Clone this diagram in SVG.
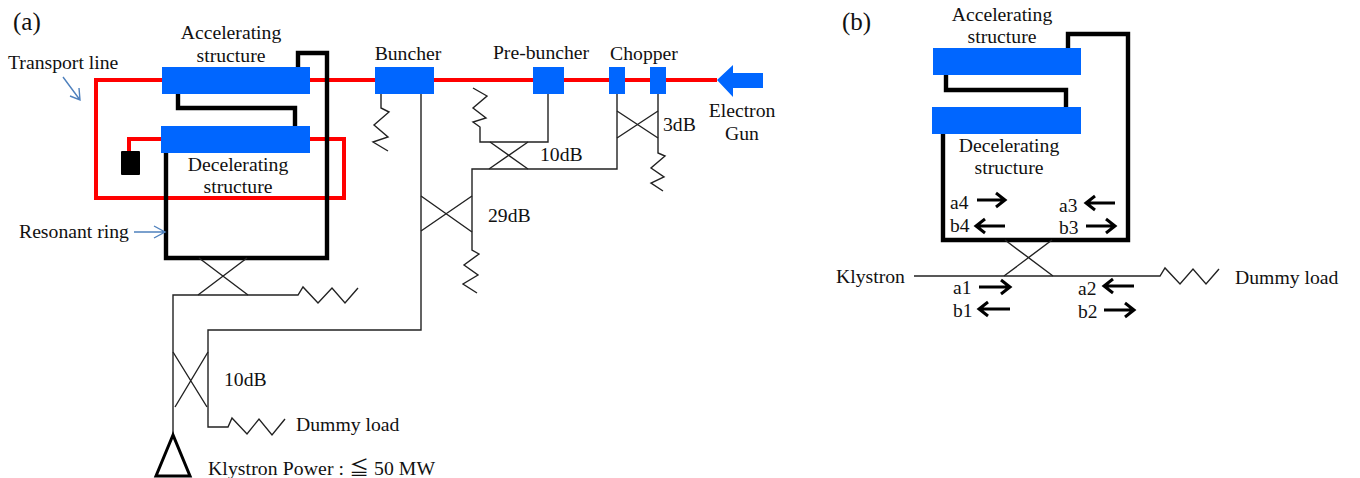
<svg xmlns="http://www.w3.org/2000/svg" width="1360" height="478" viewBox="0 0 1360 478">
<style>
text{font-family:"Liberation Serif","Noto Sans CJK JP",serif;font-size:19.7px;fill:#111}
.m{text-anchor:middle}
.p{font-size:25px}
.s{font-size:19.5px}
.t{fill:none;stroke:#222;stroke-width:1.4}
.k{fill:none;stroke:#000;stroke-width:4.4}
.r{fill:none;stroke:#f00;stroke-width:4}
.b{fill:#0066ff}
.h{fill:none;stroke:#000;stroke-width:3}
.n{fill:none;stroke:#4f81bd;stroke-width:1.4}
</style>
<rect width="1360" height="478" fill="#fff"/>
<g id="connectors">
<path class="r" d="M717 80H96V198H344V139H129V152"/>
<path class="k" d="M298 67V53H327V258H166V153"/>
<path class="k" d="M178 94V108H295V126"/>
<path class="n" d="M63 77L80 100M70 96L80 100L79 88"/>
<path class="n" d="M134 232H165M154 226L165 232L154 238"/>
<path class="t" d="M199 258L248 295M247 258L198 295"/>
<path class="t" d="M173 435V295H298L303 287L318 303L332 288L345 303L358 288"/>
<path class="t" d="M173 352L207 407M208 352L175 407"/>
<path class="t" d="M421 94V330H208V427H228L232 418L247 434L259 419L272 435L285 419"/>
<path d="M173 435L156 476H190Z" fill="none" stroke="#000" stroke-width="3"/>
<path class="t" d="M381 94V108L389 112L374 125L388 137L373 142L388 151"/>
<path class="t" d="M548 94V142H480V127L473 122L486 118L473 108L487 96L473 88"/>
<path class="t" d="M490 142L528 169M528 142L489 169"/>
<path class="t" d="M617 94V169H472V250L479 254L464 265L478 275L463 284L477 293"/>
<path class="t" d="M421 196L472 232M421 231L472 196"/>
<path class="t" d="M658 94V153L665 156L651 168L664 177L651 183L663 191"/>
<path class="t" d="M617 111L658 138M617 138L658 111"/>
<path class="k" d="M1068 48V34H1128V240H943V134"/>
<path class="k" d="M946 75V90H1066V107"/>
<path class="t" d="M1005 240L1053 276M1052 240L1004 276"/>
<path class="t" d="M914 276H1160L1165 268L1180 284L1193 269L1206 284L1219 269"/>
<path class="h" d="M977 200H1005M996 193L1005 200L996 207"/>
<path class="h" d="M1005 226H976M985 219L976 226L985 233"/>
<path class="h" d="M1115 203H1086M1095 196L1086 203L1095 210"/>
<path class="h" d="M1086 226H1115M1106 219L1115 226L1106 233"/>
<path class="h" d="M979 287H1010M1001 280L1010 287L1001 294"/>
<path class="h" d="M1010 309H979M988 302L979 309L988 316"/>
<path class="h" d="M1134 286H1104M1113 279L1104 286L1113 293"/>
<path class="h" d="M1104 310H1134M1125 303L1134 310L1125 317"/>
</g>
<g id="accel-a"><rect class="b" x="162" y="67" width="148" height="27"/><text class="m" x="231" y="39">Accelerating</text><text class="m" x="231" y="62">structure</text></g>
<g id="decel-a"><rect class="b" x="161" y="126" width="149" height="27"/><text class="m" x="238" y="171">Decelerating</text><text class="m" x="238" y="193">structure</text></g>
<g id="load"><rect x="121" y="151" width="19" height="24" rx="1" fill="#000"/></g>
<g id="buncher"><rect class="b" x="375" y="67" width="59" height="27"/><text class="m" x="408" y="60">Buncher</text></g>
<g id="pre-buncher"><rect class="b" x="533" y="67" width="31" height="27"/><text class="m" x="541" y="59">Pre-buncher</text></g>
<g id="chopper"><rect class="b" x="609" y="67" width="16" height="27"/><rect class="b" x="650" y="67" width="16" height="27"/><text class="m" x="644" y="60">Chopper</text></g>
<g id="gun"><path class="b" d="M717 80L733 65V73H763V88H733V97Z"/><text class="m" x="742" y="117">Electron</text><text class="m" x="742" y="140">Gun</text></g>
<g id="labels-a">
<text class="p" x="13" y="30">(a)</text>
<text x="8" y="69">Transport line</text>
<text x="19" y="238">Resonant ring</text>
<text x="540" y="161">10dB</text>
<text x="663" y="131">3dB</text>
<text x="488" y="222">29dB</text>
<text x="224" y="386">10dB</text>
<text x="296" y="431">Dummy load</text>
<text x="208" y="475" letter-spacing=".1">Klystron Power : ≦ 50 MW</text>
</g>
<g id="accel-b"><rect class="b" x="933" y="48" width="148" height="27"/><text class="m" x="1002" y="21">Accelerating</text><text class="m" x="1002" y="43">structure</text></g>
<g id="decel-b"><rect class="b" x="932" y="107" width="149" height="27"/><text class="m" x="1009" y="152">Decelerating</text><text class="m" x="1009" y="174">structure</text></g>
<g id="labels-b">
<text class="p" x="842" y="30">(b)</text>
<text x="836" y="283">Klystron</text>
<text x="1235" y="284">Dummy load</text>
<text class="s" x="950" y="209">a4</text><text class="s" x="950" y="232">b4</text>
<text class="s" x="1059" y="212">a3</text><text class="s" x="1059" y="234">b3</text>
<text class="s" x="953" y="294">a1</text><text class="s" x="953" y="317">b1</text>
<text class="s" x="1078" y="295">a2</text><text class="s" x="1078" y="318">b2</text>
</g>
</svg>
